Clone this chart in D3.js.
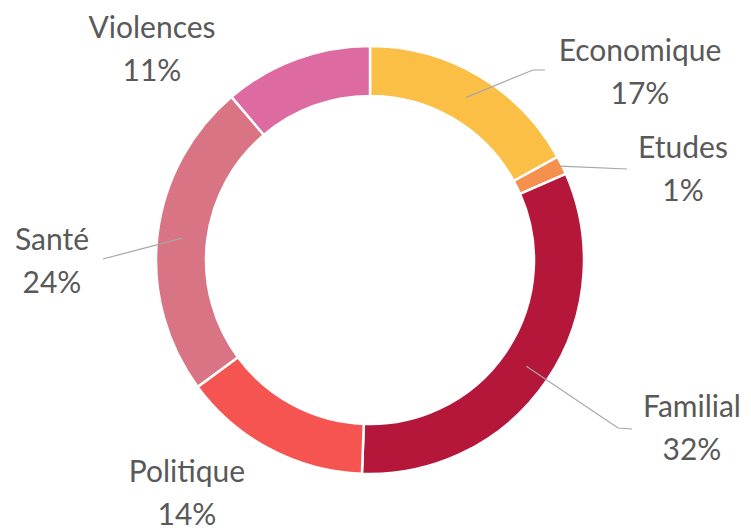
<!DOCTYPE html>
<html>
<head>
<meta charset="utf-8">
<script src="https://cdn.jsdelivr.net/npm/d3@7"></script>
<style>
  html, body { margin: 0; padding: 0; background: #fff; }
  svg text { font-family: Lato, "Open Sans", sans-serif; fill: #595959; }
</style>
</head>
<body>
<div id="chart"></div>
<script>
// chart data
var categories = ["Economique", "Etudes", "Familial", "Politique", "Santé", "Violences"];
var values = [17.0, 1.4, 32.2, 14.3, 23.9, 11.2];
var colors = ["#FBBF45", "#F6904F", "#B5173A", "#F65451", "#D87483", "#DD6AA0"];

// where excel left the labels (center x, first baseline) and leader elbows
var labelLayout = [
    { x: 640, y: 61, lead: [[533, 70], [545, 70]], r: null },
    { x: 683, y: 158, lead: [[627, 169]], r: 212 },
    { x: 692, y: 417, lead: [[618, 428], [632, 429]], r: null },
    { x: 187, y: 482, lead: null, r: null },
    { x: 52, y: 250, lead: [[103, 259]], r: null },
    { x: 152, y: 38, lead: null, r: null }
];

var width = 751, height = 531;
var cx = 370, cy = 260;
var outerR = 214, innerR = 164;

var svg = d3.select("#chart").append("svg")
    .attr("width", width)
    .attr("height", height);

var g = svg.append("g")
    .attr("transform", "translate(" + cx + "," + cy + ")");

var data = categories.map(function(c, i) {
    return { name: c, value: values[i], color: colors[i], layout: labelLayout[i] };
});
var total = d3.sum(values);

var pie = d3.pie()
    .sort(null)
    .value(function(d) { return d.value; });

var arc = d3.arc()
    .innerRadius(innerR)
    .outerRadius(outerR);

var arcs = pie(data);

g.selectAll(".slice")
    .data(arcs)
    .enter().append("path")
    .attr("class", "slice")
    .attr("d", arc)
    .attr("fill", function(d) { return d.data.color; })
    .attr("stroke", "#fff")
    .attr("stroke-width", 2.5);

// leader lines, from slice centroid to label
var line = d3.line();
arcs.forEach(function(d) {
    var lay = d.data.layout;
    if (!lay.lead) return;
    var start;
    if (lay.r) {
        var a = (d.startAngle + d.endAngle) / 2;
        start = [cx + lay.r * Math.sin(a), cy - lay.r * Math.cos(a)];
    } else {
        var c = arc.centroid(d);
        start = [cx + c[0], cy + c[1]];
    }
    svg.append("path")
        .attr("d", line([start].concat(lay.lead)))
        .attr("fill", "none")
        .attr("stroke", "#A6A6A6")
        .attr("stroke-width", 1.2);
});

// labels
arcs.forEach(function(d) {
    var lay = d.data.layout;
    var t = svg.append("text")
        .attr("text-anchor", "middle")
        .attr("font-size", 30);
    t.append("tspan")
        .attr("x", lay.x)
        .attr("y", lay.y)
        .text(d.data.name);
    t.append("tspan")
        .attr("x", lay.x)
        .attr("y", lay.y + 43)
        .text(Math.round(d.data.value / total * 100) + "%");
});
</script>
</body>
</html>
